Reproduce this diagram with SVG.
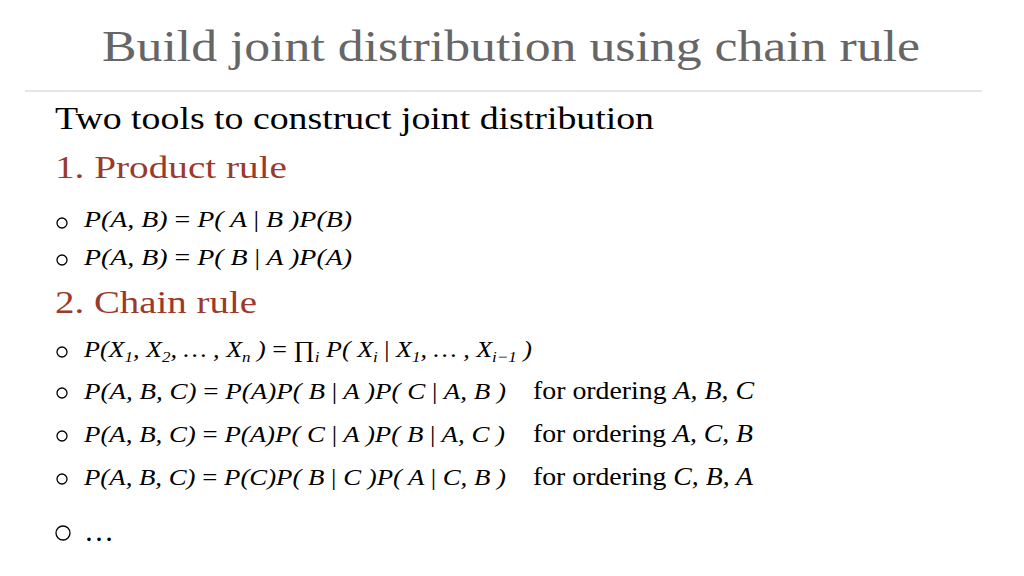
<svg xmlns="http://www.w3.org/2000/svg" width="1024" height="576" viewBox="0 0 1024 576">
<style>
.t{font-family:"Liberation Serif",serif;}
.m{font-family:"Liberation Serif",serif;font-size:23px;font-style:italic;fill:#000}
.n{font-style:normal}
.r{fill:#9b3a2b;font-size:32px}
.b{fill:none;stroke:#000;stroke-width:1.3}
</style>
<rect width="1024" height="576" fill="#fff"/>
<text class="t" x="102" y="61" font-size="44" fill="#666" textLength="818" lengthAdjust="spacingAndGlyphs">Build joint distribution using chain rule</text>
<line x1="25" y1="91" x2="982" y2="91" stroke="#ccc" stroke-width="1"/>
<text class="t" x="55" y="129" font-size="32" textLength="599" lengthAdjust="spacingAndGlyphs">Two tools to construct joint distribution</text>
<text class="t r" x="55" y="178" textLength="232" lengthAdjust="spacingAndGlyphs">1.  Product rule</text>
<g class="b"><circle cx="62" cy="223" r="5"/><circle cx="62" cy="260" r="5"/><circle cx="62" cy="352" r="5"/><circle cx="62" cy="393" r="5"/><circle cx="62" cy="436" r="5"/><circle cx="62" cy="479" r="5"/><circle cx="63" cy="533" r="7"/></g>
<text class="m" x="84" y="227" textLength="268" lengthAdjust="spacingAndGlyphs">P(A, B) <tspan class="n">=</tspan> P( A <tspan class="n">|</tspan> B )P(B)</text>
<text class="m" x="84" y="265" textLength="268" lengthAdjust="spacingAndGlyphs">P(A, B) <tspan class="n">=</tspan> P( B <tspan class="n">|</tspan> A )P(A)</text>
<text class="t r" x="55" y="313" textLength="202" lengthAdjust="spacingAndGlyphs">2.  Chain rule</text>
<text class="m" x="84" y="357" textLength="448" lengthAdjust="spacingAndGlyphs">P(X<tspan font-size="15" dy="5">1</tspan><tspan dy="-5">, X</tspan><tspan font-size="15" dy="5">2</tspan><tspan dy="-5">, … , X</tspan><tspan font-size="15" dy="5">n</tspan><tspan dy="-5"> ) </tspan><tspan class="n">= ∏</tspan><tspan font-size="15" dy="5">i</tspan><tspan dy="-5"> P( X</tspan><tspan font-size="15" dy="5">i</tspan><tspan dy="-5"> </tspan><tspan class="n">|</tspan> X<tspan font-size="15" dy="5">1</tspan><tspan dy="-5">, … , X</tspan><tspan font-size="15" dy="5">i−1</tspan><tspan dy="-5"> )</tspan></text>
<text class="m" x="84" y="399" textLength="422" lengthAdjust="spacingAndGlyphs">P(A, B, C) <tspan class="n">=</tspan> P(A)P( B <tspan class="n">|</tspan> A )P( C <tspan class="n">|</tspan> A, B )</text>
<text class="m" x="84" y="442" textLength="421" lengthAdjust="spacingAndGlyphs">P(A, B, C) <tspan class="n">=</tspan> P(A)P( C <tspan class="n">|</tspan> A )P( B <tspan class="n">|</tspan> A, C )</text>
<text class="m" x="84" y="485" textLength="422" lengthAdjust="spacingAndGlyphs">P(A, B, C) <tspan class="n">=</tspan> P(C)P( B <tspan class="n">|</tspan> C )P( A <tspan class="n">|</tspan> C, B )</text>
<text class="t" x="533" y="399" font-size="26" textLength="221" lengthAdjust="spacingAndGlyphs">for ordering <tspan font-style="italic">A, B, C</tspan></text>
<text class="t" x="533" y="442" font-size="26" textLength="220" lengthAdjust="spacingAndGlyphs">for ordering <tspan font-style="italic">A, C, B</tspan></text>
<text class="t" x="533" y="485" font-size="26" textLength="220" lengthAdjust="spacingAndGlyphs">for ordering <tspan font-style="italic">C, B, A</tspan></text>
<text class="t" x="84" y="541" font-size="30">…</text>
</svg>
